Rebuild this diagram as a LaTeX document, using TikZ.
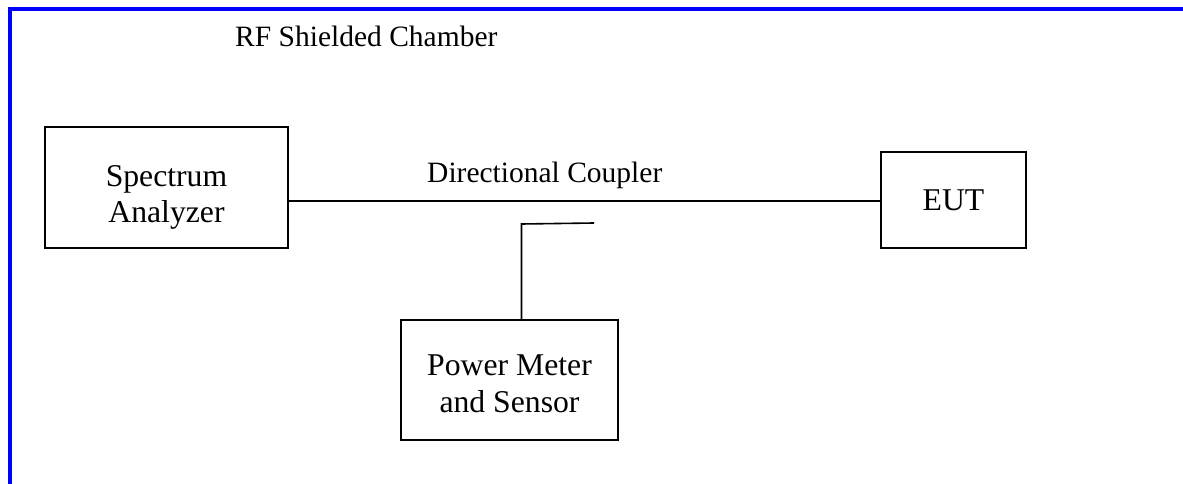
\documentclass[tikz,border=0pt]{standalone}
\usepackage{fontspec}
\setmainfont{Liberation Serif}
\begin{document}
\begin{tikzpicture}[x=1pt,y=-1pt,
  box/.style={draw=black,line width=1.8pt,rectangle,align=center,inner sep=0pt,font=\fontsize{31.7}{36}\selectfont},
  lbl/.style={inner sep=0pt,anchor=base west,font=\fontsize{29.5}{36}\selectfont},
  wire/.style={draw=black,line width=1.6pt},
  frame/.style={draw={rgb,255:red,0;green,0;blue,255},line width=4pt}]
\useasboundingbox (0,0) rectangle (1183,484);
\coordinate (ftop) at (1183,9);
\coordinate (fcorner) at (10.3,9);
\coordinate (fbot) at (10.3,484);
\draw[frame] (ftop) -- (fcorner) -- (fbot);
\node[lbl] (rf) at (235,47) {RF Shielded Chamber};
\node[box,minimum width=243pt,minimum height=121pt] (sa) at (166.5,187.5) {\rule{0pt}{40pt}Spectrum\\Analyzer};
\node[box,minimum width=145pt,minimum height=96pt] (eut) at (953.5,200) {EUT};
\node[box,minimum width=217pt,minimum height=120pt,font=\fontsize{31.7}{37}\selectfont] (pm) at (509.5,380) {\rule{0pt}{29pt}Power Meter\\and Sensor};
\node[lbl] (dc) at (427,182) {Directional Coupler};
\coordinate (m) at (0,201);
\draw[wire] (sa.east |- m) -- (eut.west |- m);
\coordinate (ct) at (521.5,224);
\coordinate (ce) at (594,223);
\draw[wire] (ce) -- (ct) -- (ct |- pm.north);
\end{tikzpicture}
\end{document}
